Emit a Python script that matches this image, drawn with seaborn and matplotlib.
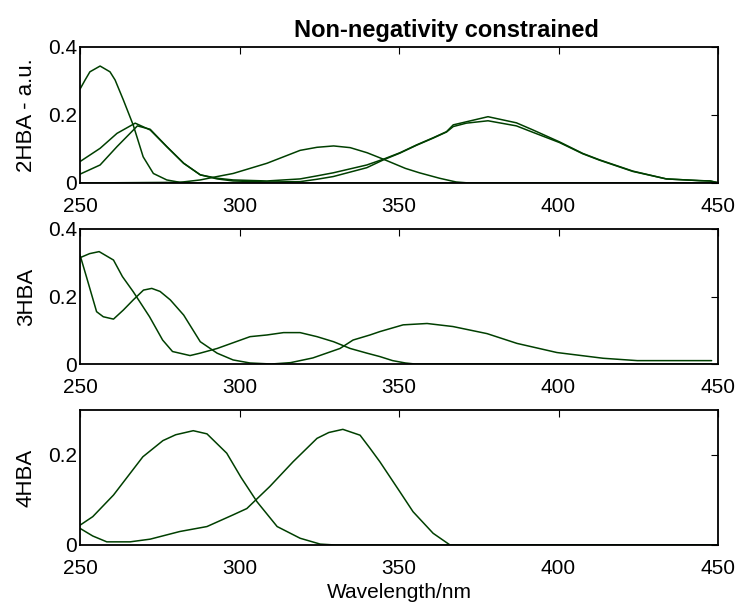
import numpy as np
import pandas as pd
import matplotlib
matplotlib.use("Agg")
import matplotlib.pyplot as plt
import seaborn as sns

# ---------------- data ----------------
title = "Non-negativity constrained"
ylabels = ["2HBA - a.u.", "3HBA", "4HBA"]
xlabel = "Wavelength/nm"
xticks = [250, 300, 350, 400, 450]

# 2HBA
a_x = [250, 251.6, 253.1, 256.3, 259.4, 261, 263.6, 266.7, 269.8, 273, 277.2, 281.3, 285, 450]
a_y = [0.276, 0.303, 0.327, 0.344, 0.327, 0.303, 0.244, 0.17, 0.077, 0.028, 0.009, 0.002, 0.0, 0.0]

b1_x = [250, 256.3, 261.6, 267.3, 272, 277.2, 282.5, 287.7, 293, 298, 308.6, 319, 324.3, 329.4,
        339.9, 345.1, 350.3, 355.5, 360.7, 364.9, 367, 371.1, 377.9, 386.8, 392, 400.3, 407.6,
        412.9, 423.3, 433.8, 444.2, 447.5, 450]
b1_y = [0.063, 0.102, 0.146, 0.176, 0.156, 0.107, 0.058, 0.024, 0.014, 0.009, 0.006, 0.012, 0.021, 0.03,
        0.053, 0.07, 0.089, 0.112, 0.133, 0.151, 0.171, 0.18, 0.195, 0.177, 0.156, 0.121, 0.087,
        0.068, 0.035, 0.012, 0.007, 0.006, 0.001]

b2_x = [250, 256.3, 261.6, 268, 272, 277.2, 282.5, 287.7, 293, 298, 308.6, 319, 324.3, 329.4,
        339.9, 345.1, 350.3, 355.5, 360.7, 364.9, 367, 371.1, 377.9, 386.8, 392, 400.3, 407.6,
        412.9, 423.3, 433.8, 444.2, 447.5, 450]
b2_y = [0.026, 0.053, 0.107, 0.168, 0.158, 0.107, 0.058, 0.024, 0.012, 0.006, 0.003, 0.004, 0.011, 0.019,
        0.045, 0.068, 0.088, 0.111, 0.132, 0.15, 0.166, 0.176, 0.183, 0.168, 0.149, 0.119, 0.086,
        0.067, 0.034, 0.012, 0.007, 0.006, 0.001]

c_x = [250, 281.3, 287.7, 293, 298, 303.3, 308.6, 313.8, 319, 324.3, 329.5, 334.7, 340, 345.1,
       352, 356.4, 362.7, 367.9, 372, 450]
c_y = [0.0, 0.002, 0.009, 0.019, 0.028, 0.043, 0.058, 0.077, 0.096, 0.105, 0.109, 0.104, 0.089, 0.07,
       0.043, 0.03, 0.014, 0.003, 0.0, 0.0]

# 3HBA
d_x = [250, 253, 256, 260.5, 263.3, 266.7, 271.8, 275.9, 279, 284.5, 287.6, 293, 298, 303.3, 308.6,
       313.8, 319, 324.3, 329.5, 334.7, 340, 344, 348, 352, 355, 448]
d_y = [0.315, 0.327, 0.333, 0.308, 0.259, 0.214, 0.14, 0.071, 0.037, 0.025, 0.032, 0.046, 0.063, 0.081, 0.086,
       0.093, 0.093, 0.081, 0.066, 0.046, 0.032, 0.022, 0.01, 0.003, 0.0, 0.0]

e_x = [250, 252, 255.2, 257.3, 260.5, 263.6, 266.7, 269.9, 272.5, 275.1, 278.3, 282.5, 287.7, 293, 298,
       303.3, 310, 316, 323, 331.5, 335.6, 340.9, 344, 351.3, 358.8, 366.9, 377.6, 387, 399.5, 414,
       424.7, 448]
e_y = [0.323, 0.259, 0.155, 0.14, 0.133, 0.16, 0.19, 0.219, 0.224, 0.215, 0.19, 0.145, 0.066, 0.032, 0.012,
       0.003, 0.0, 0.004, 0.018, 0.046, 0.071, 0.086, 0.096, 0.116, 0.12, 0.111, 0.09, 0.061, 0.034, 0.017,
       0.01, 0.01]

# 4HBA
f_x = [250, 254, 260.5, 269.7, 276, 280, 285.5, 289.8, 296, 300.5, 305.5, 311.8, 319, 325.3, 330, 450]
f_y = [0.044, 0.063, 0.111, 0.196, 0.232, 0.245, 0.254, 0.247, 0.204, 0.15, 0.096, 0.041, 0.015, 0.002, 0.0, 0.0]

g_x = [250, 254, 258.4, 265.7, 272, 281.3, 289.8, 298, 302.3, 309.5, 316.8, 324.3, 328, 332.4, 337.8,
       340.9, 344, 350.3, 354.4, 360.7, 366, 450]
g_y = [0.037, 0.02, 0.007, 0.007, 0.013, 0.03, 0.041, 0.067, 0.081, 0.13, 0.185, 0.237, 0.25, 0.257, 0.244,
       0.215, 0.185, 0.118, 0.074, 0.026, 0.0, 0.0]

panels = [
    [(a_x, a_y), (b1_x, b1_y), (b2_x, b2_y), (c_x, c_y)],
    [(d_x, d_y), (e_x, e_y)],
    [(f_x, f_y), (g_x, g_y)],
]
ylims = [(0, 0.4), (0, 0.4), (0, 0.3)]
yticks = [[0, 0.2, 0.4], [0, 0.2, 0.4], [0, 0.2]]
ytick_labels = [["0", "0.2", "0.4"], ["0", "0.2", "0.4"], ["0", "0.2"]]

# ---------------- style ----------------
sns.set_style("white")
plt.rcParams["font.family"] = ["Liberation Sans", "DejaVu Sans"]
plt.rcParams["axes.linewidth"] = 1.3
plt.rcParams["text.color"] = "black"
plt.rcParams["axes.labelcolor"] = "black"
line_color = "#003f00"

fig = plt.figure(figsize=(7.44, 6.07), dpi=100)
W, H = 744, 607
boxes = [(47, 183), (229, 364), (410, 545)]
left_px, right_px = 80, 718
aw = right_px - left_px

for i, (top, bot) in enumerate(boxes):
    ax = fig.add_axes([left_px / W, 1 - bot / H, aw / W, (bot - top) / H])
    for xs, ys in panels[i]:
        df = pd.DataFrame({"wl": xs, "v": ys})
        sns.lineplot(data=df, x="wl", y="v", ax=ax, color=line_color, lw=1.1,
                     estimator=None, sort=False)
    ax.set_xlim(250, 450)
    ax.set_ylim(*ylims[i])
    ax.set_xticks(xticks)
    ax.set_xticklabels([str(t) for t in xticks])
    ax.set_yticks(yticks[i])
    ax.set_yticklabels(ytick_labels[i])
    ax.tick_params(direction="in", top=True, right=True, length=5, width=0.8,
                   labelsize=15, colors="black")
    ax.tick_params(axis="x", pad=10)
    ax.tick_params(axis="y", pad=2)
    for s in ax.spines.values():
        s.set_color("black")
        s.set_linewidth(1.3)
    ax.set_ylabel(ylabels[i], fontsize=16, color="black")
    ax.yaxis.set_label_coords(-43 / aw, 0.5)
    if i == 2:
        ax.set_xlabel(xlabel, fontsize=15, labelpad=4, color="black")
    else:
        ax.set_xlabel("")
    if i == 0:
        ax.set_title(title, fontsize=17, fontweight="bold", pad=7, x=0.575, color="black")

fig.savefig("out.png", dpi=100)
